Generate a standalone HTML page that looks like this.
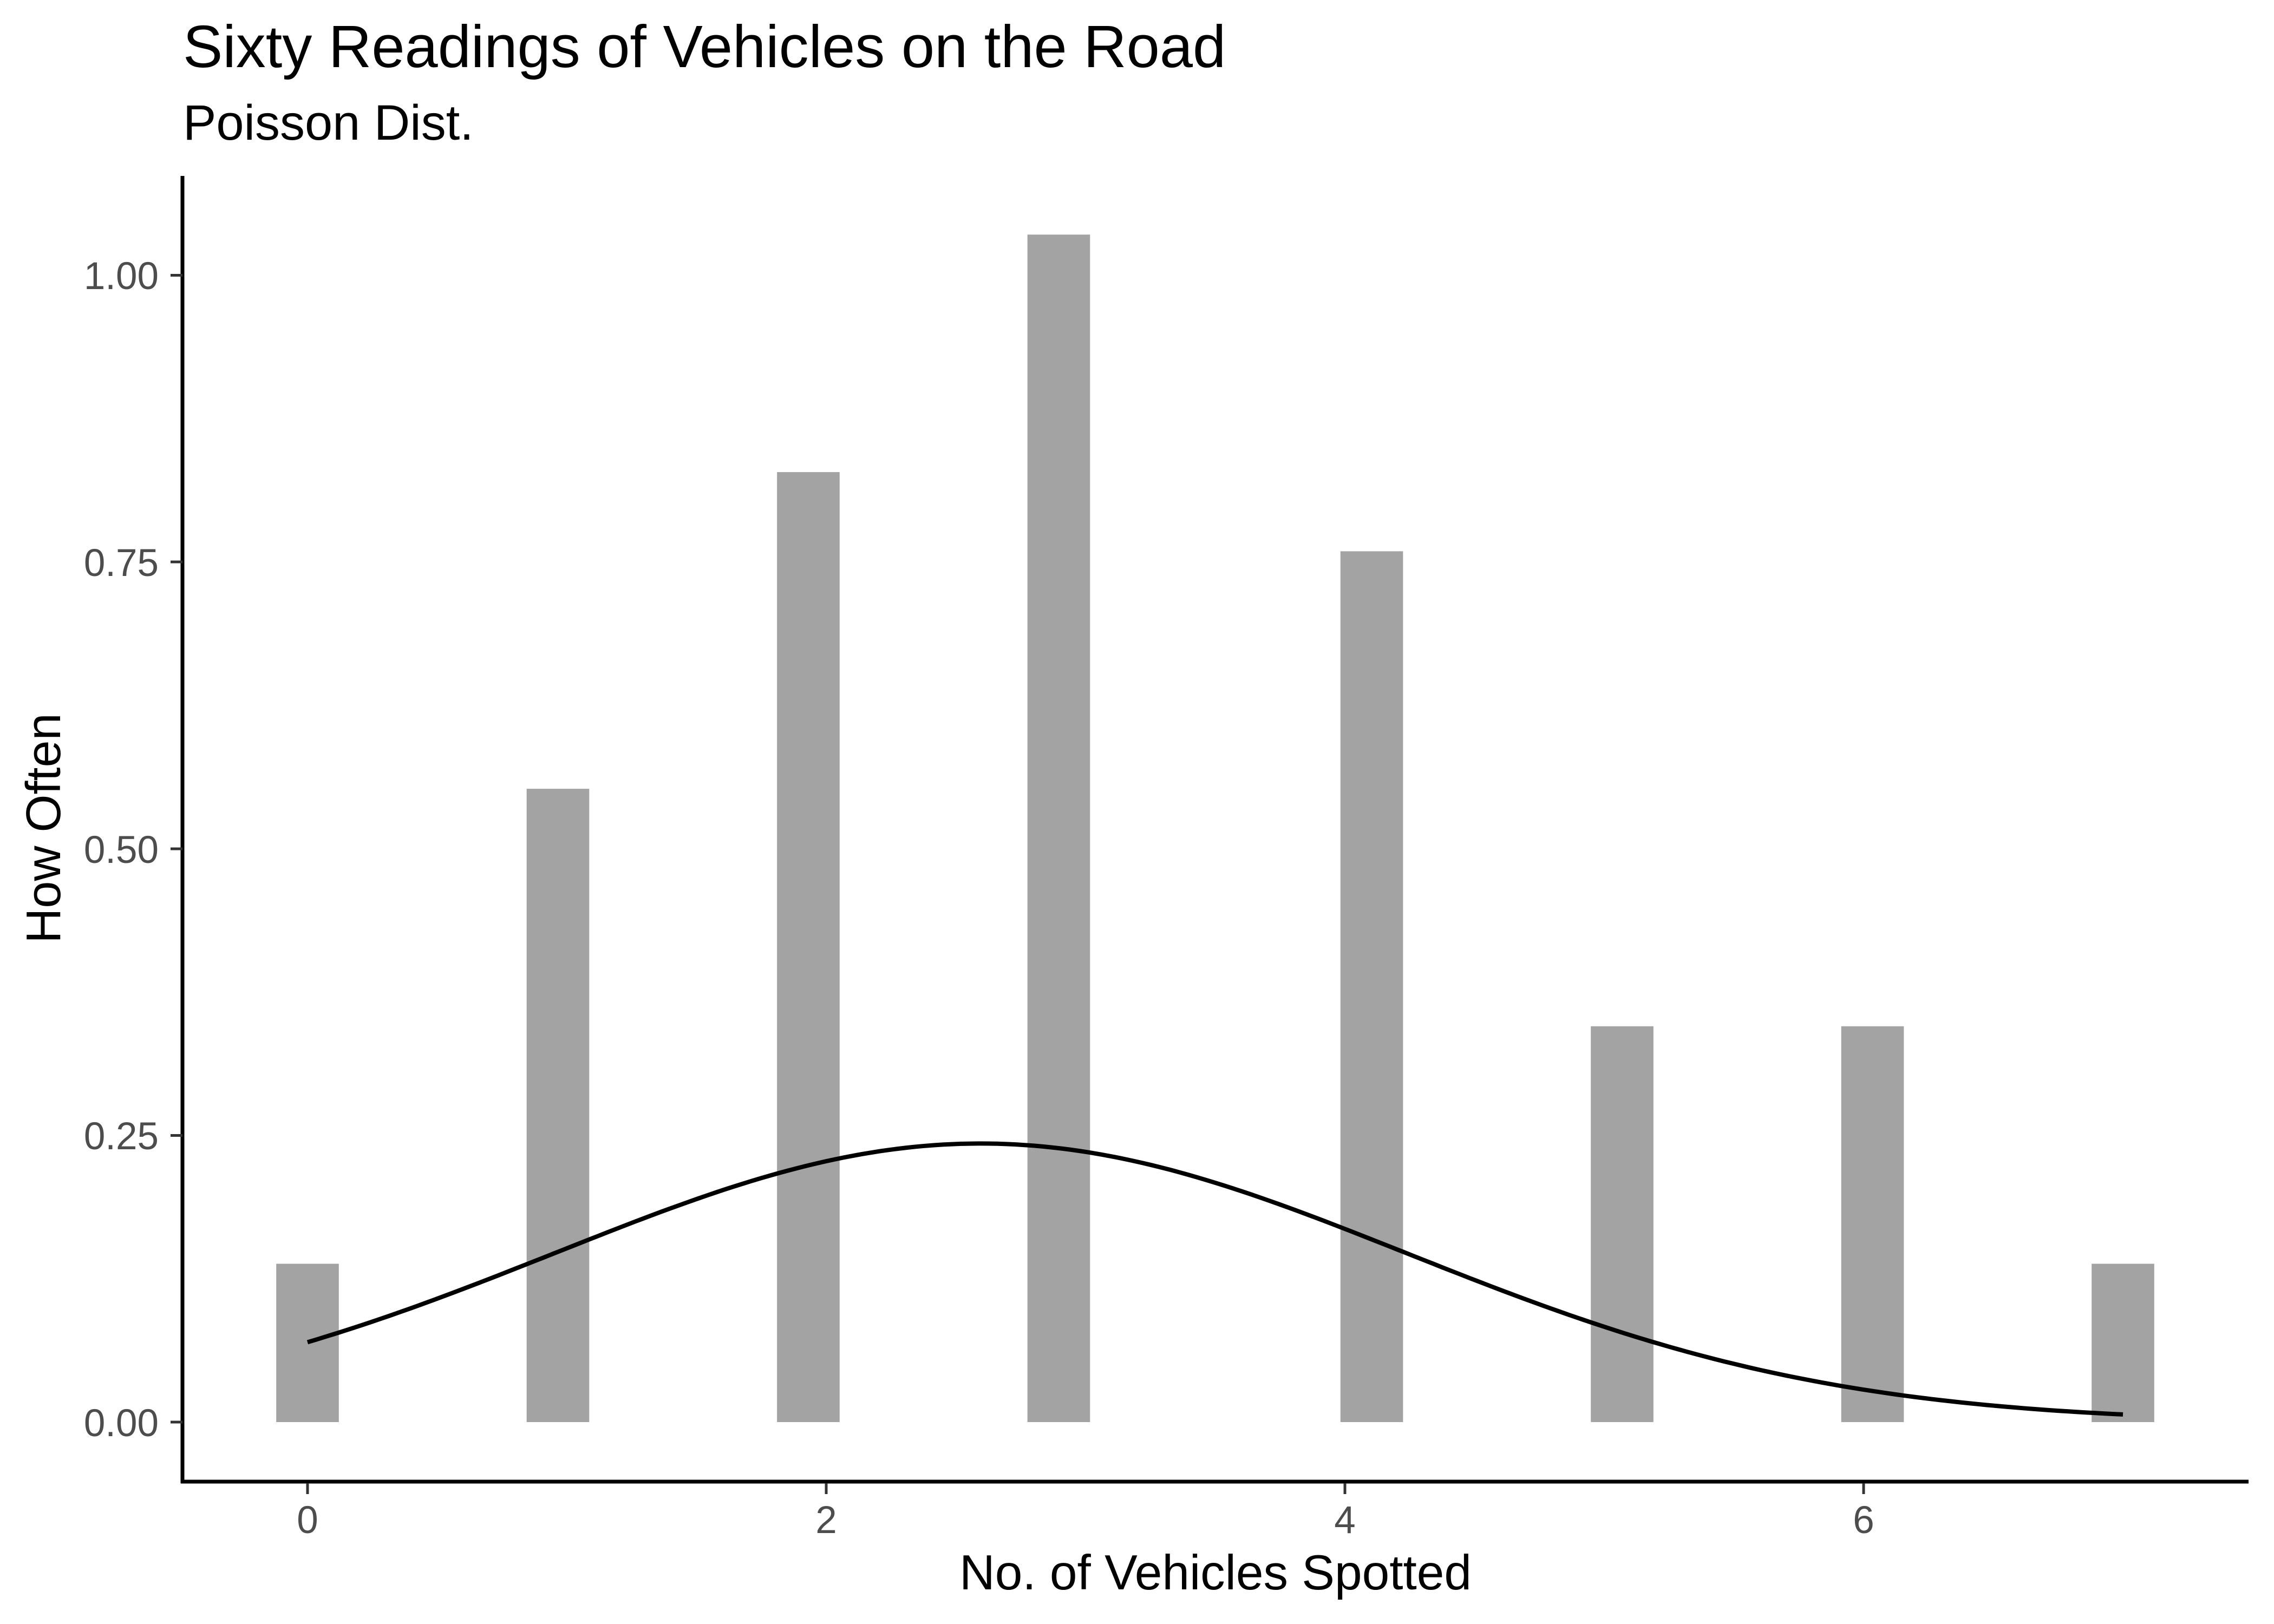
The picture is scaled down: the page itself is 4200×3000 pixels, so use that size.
<!DOCTYPE html>
<html><head><meta charset="utf-8"><style>html,body{margin:0;padding:0;background:#fff}svg{display:block}</style></head>
<body>
<svg id="s" width="4200" height="3000" viewBox="0 0 4200 3000" xmlns="http://www.w3.org/2000/svg" font-family="Liberation Sans, Arial, sans-serif">
<rect width="4200" height="3000" fill="#fff"/>
<g id="bars" fill="#a3a3a3"></g>
<path id="curve" fill="none" stroke="#000" stroke-width="8" stroke-linejoin="round"/>
<line x1="337" y1="325" x2="337" y2="2740" stroke="#000" stroke-width="7"/>
<line x1="334" y1="2737" x2="4153" y2="2737" stroke="#000" stroke-width="7"/>
<g stroke="#333" stroke-width="5">
<line x1="315" y1="508.5" x2="337" y2="508.5"/>
<line x1="315" y1="1038" x2="337" y2="1038"/>
<line x1="315" y1="1568" x2="337" y2="1568"/>
<line x1="315" y1="2097.5" x2="337" y2="2097.5"/>
<line x1="315" y1="2627" x2="337" y2="2627"/>
<line x1="568" y1="2740" x2="568" y2="2760"/>
<line x1="1526" y1="2740" x2="1526" y2="2760"/>
<line x1="2484" y1="2740" x2="2484" y2="2760"/>
<line x1="3442" y1="2740" x2="3442" y2="2760"/>
</g>
<g fill="#4d4d4d" font-size="71" text-anchor="end">
<text x="293" y="534">1.00</text>
<text x="293" y="1064">0.75</text>
<text x="293" y="1594">0.50</text>
<text x="293" y="2123">0.25</text>
<text x="293" y="2653">0.00</text>
</g>
<g fill="#4d4d4d" font-size="71" text-anchor="middle">
<text x="568" y="2832">0</text>
<text x="1526" y="2832">2</text>
<text x="2484" y="2832">4</text>
<text x="3442" y="2832">6</text>
</g>
<text x="2245" y="2936" font-size="91" text-anchor="middle" fill="#000">No. of Vehicles Spotted</text>
<text transform="translate(111,1530) rotate(-90)" font-size="90" text-anchor="middle" fill="#000">How Often</text>
<text x="338" y="124" font-size="110" fill="#000">Sixty Readings of Vehicles on the Road</text>
<text x="338" y="258" font-size="92" fill="#000">Poisson Dist.</text>
</svg>
<script>
(function(){
var X=function(v){return 568+479*v;}, Y=function(d){return 2627-2118*d;};
var counts=[[0,2],[4,8],[8,12],[12,15],[17,11],[21,5],[25,5],[29,2]];
var w=7/29, g=document.getElementById('bars'), ns='http://www.w3.org/2000/svg';
counts.forEach(function(c){
 var cx=c[0]*w, d=c[1]/(60*w);
 var r=document.createElementNS(ns,'rect');
 r.setAttribute('x',X(cx-w/2)); r.setAttribute('width',w*479);
 r.setAttribute('y',Y(d)); r.setAttribute('height',2627-Y(d));
 g.appendChild(r);
});
var m=2.595,s=1.642,p='';
for(var i=0;i<=200;i++){var v=7*i/200;var d=Math.exp(-(v-m)*(v-m)/(2*s*s))/(s*Math.sqrt(2*Math.PI));
 p+=(i?'L':'M')+X(v).toFixed(1)+' '+Y(d).toFixed(1);}
document.getElementById('curve').setAttribute('d',p);
})();
</script>
</body></html>
